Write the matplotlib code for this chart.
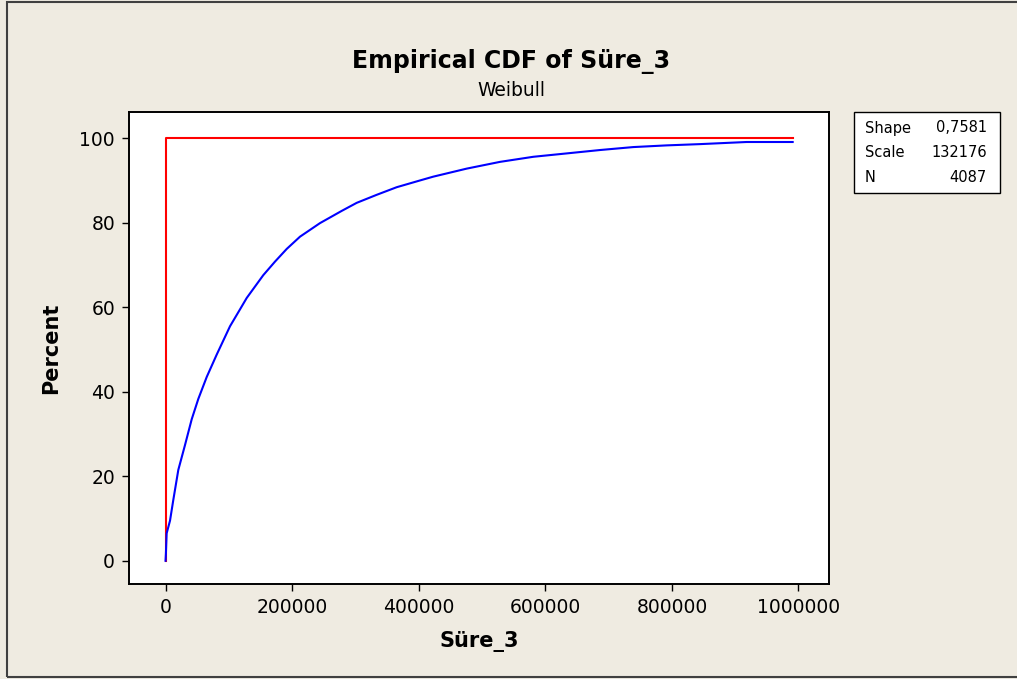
import numpy as np
import matplotlib
matplotlib.use('Agg')
import matplotlib.pyplot as plt
from matplotlib.patches import Rectangle

# empirical CDF
sure = [0, 600, 1800, 7100, 12300, 20200, 30800, 41400, 51800, 65100, 80900,
        101900, 117700, 128300, 154500, 173000, 191500, 212500, 244000,
        278400, 302000, 333600, 365200, 402000, 423000, 475800, 528500,
        581000, 633800, 686400, 739000, 791800, 844500, 918000, 990800]
percent = [0, 1.7, 6.5, 9.5, 14.4, 21.5, 27.4, 33.5, 38.3, 43.5, 48.8,
           55.5, 59.5, 62.2, 67.6, 70.8, 73.8, 76.7, 79.9,
           82.8, 84.7, 86.6, 88.4, 90.0, 90.9, 92.8, 94.4,
           95.6, 96.4, 97.2, 97.9, 98.3, 98.6, 99.1, 99.1]

# fitted weibull line as drawn
fit_x = [0, 0, 990800]
fit_y = [0, 100, 100]

stat_names = ['Shape', 'Scale', 'N']
stat_values = ['0,7581', '132176', '4087']

bg = '#EFEBE1'
fig = plt.figure(figsize=(10.17, 6.79), dpi=100, facecolor=bg)
ax = fig.add_axes([129/1017, 1-584/679, 700/1017, 472/679])
ax.set_facecolor('white')

ax.plot(fit_x, fit_y, color='#FF0000', lw=1.5)
ax.plot(sure, percent, color='#0000FF', lw=1.5)

ax.set_xlim(-57700, 1048200)
ax.set_ylim(-5.5, 106.2)
ax.set_xticks([0, 200000, 400000, 600000, 800000, 1000000])
ax.set_xticklabels(['0', '200000', '400000', '600000', '800000', '1000000'])
ax.set_yticks([0, 20, 40, 60, 80, 100])
ax.tick_params(labelsize=13.5, length=5, width=1, pad=5)
for s in ax.spines.values():
    s.set_linewidth(1.4)

ax.set_xlabel('Süre_3', fontsize=15, fontweight='bold', labelpad=10)
ax.set_ylabel('Percent', fontsize=15, fontweight='bold', labelpad=13)

fig.text(0.503, 1-68.3/679, 'Empirical CDF of Süre_3', fontsize=17,
         fontweight='bold', ha='center', va='baseline')
fig.text(0.503, 1-96/679, 'Weibull', fontsize=13.5, ha='center', va='baseline')

# stats box
fig.patches.append(Rectangle((854/1017, 1-193/679), 146/1017, 81/679,
                             transform=fig.transFigure, facecolor='white',
                             edgecolor='black', lw=1))
for i, (nm, val) in enumerate(zip(stat_names, stat_values)):
    yy = 1 - (128 + i*24.5)/679
    fig.text(865/1017, yy, nm, fontsize=10.5, ha='left', va='center')
    fig.text(987/1017, yy, val, fontsize=10.5, ha='right', va='center')

# outer frame
fig.patches.append(Rectangle((7/1017, 1-677/679), 1.1, 675/679,
                             transform=fig.transFigure, fill=False,
                             edgecolor='#404040', lw=1.5))

fig.savefig('out.png', dpi=100, facecolor=bg)
